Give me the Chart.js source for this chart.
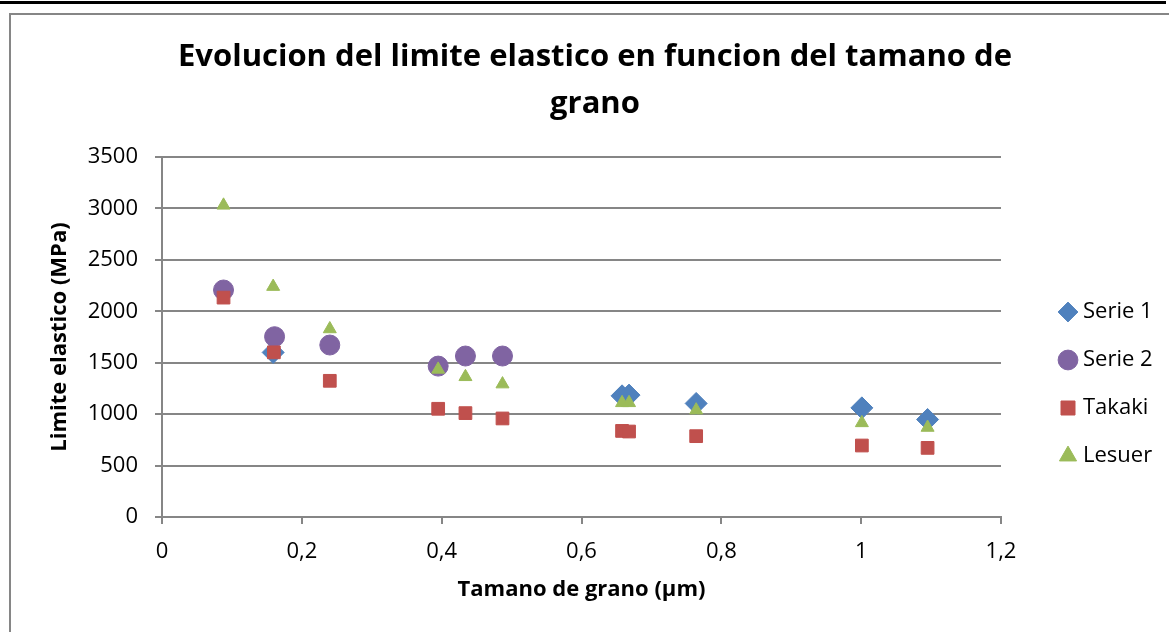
<!DOCTYPE html>
<html>
<head>
<meta charset="utf-8">
<script src="https://cdn.jsdelivr.net/npm/chart.js@4"></script>
<style>
  html, body { margin: 0; padding: 0; background: #fff; overflow: hidden; }
  #rule { position: absolute; left: 0; top: 1px; width: 1166px; height: 3px; background: #000; }
  #frame { position: absolute; left: 9px; top: 13px; width: 1160px; height: 619px;
           border-left: 2px solid #868686; border-top: 2px solid #868686; box-sizing: border-box; }
  #myChart { position: absolute; left: 11px; top: 15px; }
</style>
</head>
<body>
<div id="rule"></div>
<div id="frame"></div>
<canvas id="myChart" width="1158" height="617"></canvas>
<script>
// grain size (µm) and yield stress (MPa) for each series
const grainSerie1 = [0.159, 0.658, 0.668, 0.764, 1.001, 1.095];
const stressSerie1 = [1600, 1178, 1185, 1104, 1061, 948];

const grainSerie2 = [0.088, 0.161, 0.240, 0.395, 0.434, 0.487];
const stressSerie2 = [2207, 1753, 1672, 1467, 1565, 1565];

const grainTakaki = [0.088, 0.160, 0.240, 0.395, 0.434, 0.487, 0.658, 0.668, 0.764, 1.001, 1.095];
const stressTakaki = [2133, 1601, 1324, 1052, 1010, 958, 837, 831, 786, 695, 672];

const grainLesuer = [0.088, 0.159, 0.240, 0.395, 0.434, 0.487, 0.658, 0.668, 0.764, 1.001, 1.095];
const stressLesuer = [3030, 2240, 1828, 1435, 1363, 1292, 1110, 1110, 1039, 915, 870];

const seriesNames = ['Serie 1', 'Serie 2', 'Takaki', 'Lesuer'];
const xMin = 0, xMax = 1.2, xStep = 0.2;
const yMin = 0, yMax = 3500, yStep = 500;

const titleLines = ['Evolucion del limite elastico en funcion del tamano de', 'grano'];

const pairs = (xs, ys) => xs.map((x, i) => ({x: x, y: ys[i]}));

const fontFamily = '"Open Sans", sans-serif';
const tickSize = 22;
const gridGrey = '#868686';

// legend layout
const legendPad = 26;
const legendBoxW = 8;
const legendX = 1057;   // centre of first marker
const legendY = 297;
const titleCenter = 584;

// make room on the right so the plot ends at x = 990
// (a vertical legend adds 10px to its own width)
const meas = document.createElement('canvas').getContext('2d');
meas.font = tickSize + 'px ' + fontFamily;
const widest = Math.max(...seriesNames.map(n => meas.measureText(n).width));
const legendWidth = legendPad + legendBoxW + tickSize / 2 + widest + 10;
const rightPad = 1158 - 990 - legendWidth;

// move the legend and the title block after layout
const placeBlocks = {
  id: 'placeBlocks',
  afterLayout(chart) {
    const lg = chart.legend;
    const dx = (legendX - legendBoxW / 2 - legendPad) - lg.left;
    const firstY = (lg.top + legendPad + lg.bottom - lg.columnSizes[0].height) / 2 + tickSize / 2;
    const dy = legendY - firstY;
    lg.left += dx; lg.right += dx;
    lg.top += dy; lg.bottom += dy;

    const tb = chart.titleBlock;
    const tx = titleCenter - (tb.left + tb.right) / 2;
    tb.left += tx; tb.right += tx;
  }
};

Chart.defaults.font.family = fontFamily;
Chart.defaults.color = '#000';

const ctx = document.getElementById('myChart');

let chart_1 = new Chart(ctx, {
  type: 'scatter',
  data: {
    datasets: [{
      label: seriesNames[0],
      data: pairs(grainSerie1, stressSerie1),
      pointStyle: 'rectRot',
      pointRadius: 11,
      backgroundColor: '#4F81BD',
      borderColor: '#4F81BD',
      order: 4
    }, {
      label: seriesNames[1],
      data: pairs(grainSerie2, stressSerie2),
      pointStyle: 'circle',
      pointRadius: 10,
      backgroundColor: '#8064A2',
      borderColor: '#8064A2',
      order: 3
    }, {
      label: seriesNames[2],
      data: pairs(grainTakaki, stressTakaki),
      pointStyle: 'rect',
      pointRadius: 9,
      backgroundColor: '#C0504D',
      borderColor: '#C0504D',
      order: 2
    }, {
      label: seriesNames[3],
      data: pairs(grainLesuer, stressLesuer),
      pointStyle: 'triangle',
      pointRadius: 7.5,
      backgroundColor: '#9BBB59',
      borderColor: '#9BBB59',
      order: 1
    }]
  },
  options: {
    responsive: false,
    animation: false,
    events: [],
    layout: { padding: { left: 0, top: 0, right: rightPad, bottom: 0 } },
    plugins: {
      title: {
        display: true,
        text: titleLines,
        color: '#000',
        font: { size: 31, weight: 'bold', lineHeight: 1.5 },
        padding: { top: 19, bottom: 30 }
      },
      legend: {
        position: 'right',
        labels: {
          usePointStyle: true,
          boxWidth: legendBoxW,
          boxHeight: 14,
          padding: legendPad,
          color: '#000',
          font: { size: tickSize },
          sort: (a, b) => a.datasetIndex - b.datasetIndex
        }
      },
      tooltip: { enabled: false }
    },
    scales: {
      x: {
        type: 'linear',
        position: 'bottom',
        min: xMin,
        max: xMax,
        ticks: {
          stepSize: xStep,
          padding: 15,
          font: { size: tickSize },
          callback: v => (Math.round(v * 10) / 10).toString().replace('.', ',')
        },
        grid: { drawOnChartArea: false, tickLength: 7, color: gridGrey, lineWidth: 2 },
        border: { color: gridGrey, width: 2 },
        title: {
          display: true,
          text: 'Tamano de grano (µm)',
          font: { size: 22, weight: 'bold' },
          padding: { top: 0, bottom: 29 }
        },
        afterFit: s => { s.height = 115; }
      },
      y: {
        min: yMin,
        max: yMax,
        ticks: {
          stepSize: yStep,
          padding: 17,
          font: { size: tickSize },
          callback: v => Math.round(v).toString()
        },
        grid: { tickLength: 7, color: gridGrey, lineWidth: 2 },
        border: { color: gridGrey, width: 2 },
        title: {
          display: true,
          text: 'Limite elastico (MPa)',
          font: { size: 22, weight: 'bold' },
          padding: { top: 36, bottom: 0 }
        },
        afterFit: s => { s.width = 151; }
      }
    }
  },
  plugins: [placeBlocks]
});
</script>
</body>
</html>
